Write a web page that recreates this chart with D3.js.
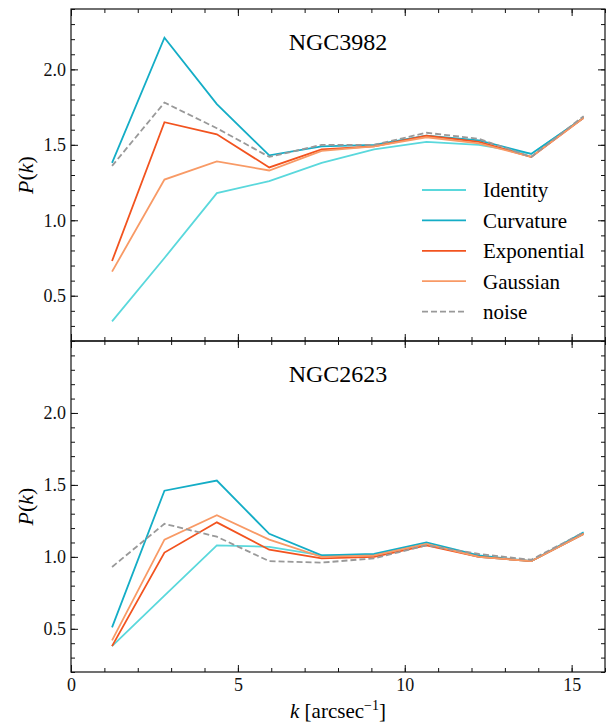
<!DOCTYPE html>
<html lang="en">

<head>
    <meta charset="UTF-8">
    <title>P(k) NGC3982 / NGC2623</title>
    <style>
        body {
            margin: 0;
            background: #fff;
        }

        .frame {
            fill: none;
            stroke: #111;
            stroke-width: 1.2;
        }
    </style>
</head>

<body>
    <svg id="chart"></svg>

    <script src="https://cdnjs.cloudflare.com/ajax/libs/d3/7.9.0/d3.js"></script>
    <script>
        // wavenumbers (shared by both panels)
        const k = [1.23, 2.80, 4.37, 5.94, 7.51, 9.08, 10.65, 12.22, 13.79, 15.36];

        // NGC3982
        const identity3982 = [0.33, 0.75, 1.18, 1.26, 1.38, 1.47, 1.52, 1.50, 1.44, 1.68];
        const curvature3982 = [1.38, 2.21, 1.77, 1.43, 1.49, 1.50, 1.56, 1.53, 1.44, 1.68];
        const exponential3982 = [0.73, 1.65, 1.57, 1.35, 1.47, 1.49, 1.56, 1.52, 1.42, 1.68];
        const gaussian3982 = [0.66, 1.27, 1.39, 1.33, 1.46, 1.49, 1.55, 1.51, 1.42, 1.68];
        const noise3982 = [1.36, 1.78, 1.61, 1.42, 1.50, 1.50, 1.58, 1.54, 1.42, 1.69];

        // NGC2623
        const identity2623 = [0.38, 0.73, 1.08, 1.07, 1.01, 1.01, 1.09, 1.00, 0.97, 1.16];
        const curvature2623 = [0.51, 1.46, 1.53, 1.16, 1.01, 1.02, 1.10, 1.01, 0.97, 1.17];
        const exponential2623 = [0.38, 1.03, 1.24, 1.05, 0.99, 1.00, 1.08, 1.00, 0.97, 1.16];
        const gaussian2623 = [0.42, 1.12, 1.29, 1.12, 1.00, 1.01, 1.09, 1.00, 0.97, 1.16];
        const noise2623 = [0.93, 1.23, 1.14, 0.97, 0.96, 0.99, 1.08, 1.02, 0.98, 1.17];

        const seriesNames = ["Identity", "Curvature", "Exponential", "Gaussian", "noise"];
        const colors = ["#5ad8dc", "#14adc6", "#f2531f", "#f89a66", "#999999"];

        const xTicks = [0, 5, 10, 15];
        const xMinor = d3.range(0, 17, 1);
        const yTicks = [0.5, 1.0, 1.5, 2.0];

        const serif = "'Liberation Serif', 'Times New Roman', 'DejaVu Serif', serif";

        const w = 609, h = 725;
        const left = 71, right = 605;

        const svg = d3.select("#chart")
            .attr("width", w)
            .attr("height", h)
            .style("font-family", serif);

        const x = d3.scaleLinear().domain([0, 16]).range([left, right]);

        const panels = [
            { name: "NGC3982", top: 9, bottom: 341, ylim: [0.2, 2.4],
              data: [identity3982, curvature3982, exponential3982, gaussian3982, noise3982], legend: true },
            { name: "NGC2623", top: 341, bottom: 672, ylim: [0.2, 2.5],
              data: [identity2623, curvature2623, exponential2623, gaussian2623, noise2623], legend: false, xlabels: true }
        ];

        panels.forEach(p => {
            const y = d3.scaleLinear().domain(p.ylim).range([p.bottom, p.top]);
            const yMinor = d3.range(Math.round(p.ylim[0] * 10), Math.round(p.ylim[1] * 10) + 1).map(v => v / 10);
            const g = svg.append("g");

            // lines
            const line = d3.line().x((d, i) => x(k[i])).y(d => y(d));
            p.data.forEach((vals, i) => {
                g.append("path")
                    .datum(vals)
                    .attr("d", line)
                    .attr("fill", "none")
                    .attr("stroke", colors[i])
                    .attr("stroke-width", 1.8)
                    .attr("stroke-dasharray", seriesNames[i] === "noise" ? "6,3" : null);
            });

            // axes (ticks inside on all four sides)
            const addAxis = (axis, tx, ty) => {
                const a = g.append("g").attr("transform", `translate(${tx},${ty})`).call(axis);
                a.select(".domain").remove();
                a.attr("font-family", null).attr("font-size", null);
                a.selectAll("line").attr("stroke", "#111");
                a.selectAll("text")
                    .attr("fill", "#111")
                    .style("font-family", serif)
                    .style("font-size", "18px");
                return a;
            };

            addAxis(d3.axisLeft(y).tickValues(yMinor).tickFormat("").tickSize(-4), left, 0);
            addAxis(d3.axisRight(y).tickValues(yMinor).tickFormat("").tickSize(-4), right, 0);
            addAxis(d3.axisBottom(x).tickValues(xMinor).tickFormat("").tickSize(-4), 0, p.bottom);
            addAxis(d3.axisTop(x).tickValues(xMinor).tickFormat("").tickSize(-4), 0, p.top);

            addAxis(d3.axisLeft(y).tickValues(yTicks).tickFormat(d3.format(".1f")).tickSize(-7).tickPadding(5), left, 0);
            addAxis(d3.axisRight(y).tickValues(yTicks).tickFormat("").tickSize(-7), right, 0);
            addAxis(d3.axisBottom(x).tickValues(xTicks).tickFormat(p.xlabels ? d3.format("d") : "").tickSize(-7).tickPadding(6), 0, p.bottom);
            addAxis(d3.axisTop(x).tickValues(xTicks).tickFormat("").tickSize(-7), 0, p.top);

            g.append("rect")
                .attr("class", "frame")
                .attr("x", left)
                .attr("y", p.top)
                .attr("width", right - left)
                .attr("height", p.bottom - p.top);

            // panel title
            g.append("text")
                .attr("x", (left + right) / 2)
                .attr("y", p.top + 41)
                .attr("text-anchor", "middle")
                .style("font-family", serif)
                .style("font-size", "24px")
                .text(p.name);

            // y label P(k)
            const yt = g.append("text")
                .attr("transform", `translate(33,${(p.top + p.bottom) / 2}) rotate(-90)`)
                .attr("text-anchor", "middle")
                .style("font-family", serif)
                .style("font-size", "22px");
            yt.append("tspan").style("font-style", "italic").text("P");
            yt.append("tspan").text("(");
            yt.append("tspan").style("font-style", "italic").text("k");
            yt.append("tspan").text(")");

            if (p.legend) {
                const lg = g.append("g").attr("transform", "translate(422,190)");
                seriesNames.forEach((n, i) => {
                    const row = lg.append("g").attr("transform", `translate(0,${i * 30.4})`);
                    row.append("line")
                        .attr("x1", 0).attr("x2", 44)
                        .attr("stroke", colors[i])
                        .attr("stroke-width", 1.8)
                        .attr("stroke-dasharray", n === "noise" ? "6,3" : null);
                    row.append("text")
                        .attr("x", 61)
                        .attr("dy", "0.35em")
                        .style("font-family", serif)
                        .style("font-size", "21px")
                        .text(n);
                });
            }
        });

        // x label
        const xt = svg.append("text")
            .attr("x", (left + right) / 2)
            .attr("y", 718)
            .attr("text-anchor", "middle")
            .style("font-family", serif)
            .style("font-size", "21px");
        xt.append("tspan").style("font-style", "italic").text("k");
        xt.append("tspan").text(" [arcsec");
        xt.append("tspan").attr("dy", "-8").style("font-size", "14px").text("\u22121");
        xt.append("tspan").attr("dy", "8").text("]");
    </script>
</body>

</html>
